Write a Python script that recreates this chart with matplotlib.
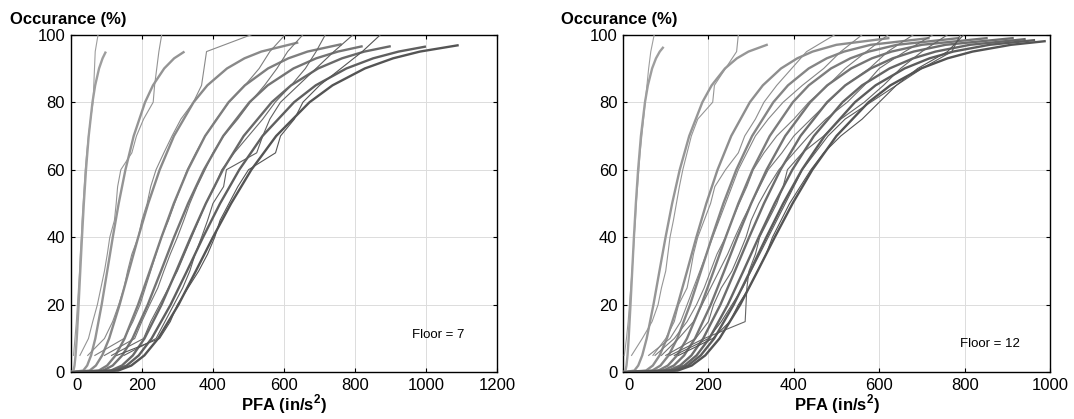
import numpy as np
import matplotlib
matplotlib.use("Agg")
import matplotlib.pyplot as plt
import matplotlib.transforms as mtransforms

plt.rcParams['font.family'] = ['Liberation Sans', 'DejaVu Sans']
plt.rcParams['mathtext.fontset'] = 'custom'
plt.rcParams['mathtext.rm'] = 'Liberation Sans'
plt.rcParams['mathtext.bf'] = 'Liberation Sans:bold'

FIT_LEVELS = [0, 0.5, 2, 5, 10, 20, 30, 40, 50, 60, 70, 80, 85, 90, 93, 95, 97]
# percent levels of the recorded (stepped) curves
REC_LEVELS = [5, 10, 15, 20, 25, 30, 35, 40, 45, 50,
              55, 60, 65, 70, 75, 80, 85, 90, 95, 100]

# ---- Floor 7 ----
fit7 = [
    [0, 7.9, 10.8, 13.8, 17.1, 22.3, 27, 31.8, 37, 43.1, 50.7, 61.3, 68.9, 79.8, 89.7],
    [0, 35.3, 46.4, 57.4, 69.3, 87.1, 102.8, 118.4, 135, 154, 177.2, 209.2, 231.4, 263, 290.9],
    [0, 53.3, 70.9, 88.6, 108.2, 137.5, 163.6, 189.9, 218, 250.3, 290.4, 345.6, 384.3, 439.5, 488.6, 536],
    [0, 78.8, 102.6, 126.2, 151.6, 189.4, 222.5, 255.2, 290, 329.6, 378, 444, 489.8, 554.8, 612, 666],
    [0, 91, 118.2, 145, 173.9, 216.6, 254, 290.6, 330, 374.7, 428.9, 502.7, 554, 626.4, 690.3, 751.4],
    [0, 112.6, 144.2, 174.9, 207.5, 255.5, 296.9, 337.4, 380, 428, 486.4, 565.3, 619.7, 695.8, 762.9, 825.8],
    [0, 122.6, 157.4, 191.4, 227.5, 280.9, 327, 372.2, 420, 474, 539.4, 628, 689, 775.2, 850.5, 922],
    [0, 133.4, 170.6, 207.2, 246, 303, 352, 400, 451, 508, 577.8, 671.6, 736.2, 827, 906.4, 982],
]
fit7_end_x = [99, 320, 640, 762, 821, 900, 999, 1091]
fit7_end_y = [95, 95, 97.7, 97.2, 96.6, 96.6, 96.5, 96.9]

rec7 = [
    [8, 12, 16, 19, 22, 25, 27, 30, 32, 35, 38, 41, 45, 50, 56, 63, 65, 67, 69, 77],
    [26, 50, 62, 75, 85, 95, 103, 110, 123, 128, 132, 141, 172, 185, 205, 232, 236, 242, 248, 256],
    [48, 95, 118, 135, 150, 160, 172, 190, 200, 215, 225, 240, 262, 285, 310, 345, 368, 375, 382, 508],
    [68, 150, 175, 195, 210, 225, 240, 255, 275, 292, 310, 328, 352, 378, 410, 445, 490, 530, 560, 603],
    [95, 180, 200, 222, 245, 262, 280, 300, 318, 335, 355, 378, 400, 430, 470, 505, 545, 580, 610, 653],
    [115, 205, 225, 250, 275, 300, 320, 340, 360, 380, 405, 425, 460, 500, 540, 575, 620, 660, 690, 716],
    [150, 240, 265, 290, 315, 335, 350, 368, 385, 400, 430, 438, 523, 540, 560, 590, 640, 690, 740, 794],
    [130, 250, 280, 300, 330, 360, 385, 405, 420, 445, 470, 500, 576, 590, 629, 653, 700, 760, 820, 871],
]

# ---- Floor 12 ----
fit12 = [
    [0, 5.8, 8.1, 10.5, 13.2, 17.5, 21.5, 25.5, 30, 35.3, 41.9, 51.4, 58.2, 68.1, 77.2, 86],
    [0, 26.5, 35.6, 45, 55.4, 71.2, 85.3, 99.6, 115, 132.8, 155, 185.8, 207.6, 238.8, 266.7, 293.8],
    [0, 53.8, 69.8, 85.6, 102.7, 128, 150, 171.7, 195, 221.4, 253.4, 297, 327.4, 370, 408, 444, 499.6],
    [0, 68.3, 87.7, 106.7, 127.1, 156.9, 182.7, 208.2, 235, 265.3, 302.3, 352, 386.3, 434.8, 477, 517.7, 579.7],
    [0, 82.6, 105, 126.6, 149.7, 183.3, 212.2, 240.4, 270, 303.2, 343.6, 397.7, 435, 487, 532.4, 575.6, 641.3],
    [0, 94.2, 119.1, 143.1, 168.5, 205.4, 236.9, 267.7, 300, 336.2, 379.8, 438.3, 478.1, 534.2, 582.8, 628.8, 699.3],
    [0, 106.3, 133.7, 160.1, 187.7, 228, 262, 295.3, 330, 368.7, 415.6, 477.8, 520.5, 580, 631.5, 680.5, 755],
    [0, 114.3, 143.8, 172.2, 202, 245.3, 281.9, 317.7, 355, 396.5, 447, 514, 559.8, 624.1, 679.5, 732, 812.2],
    [0, 120.8, 151.9, 181.9, 213.4, 259.1, 297.8, 335.6, 375, 418.9, 472.1, 543, 591.4, 659.3, 717.8, 773.3, 858],
    [0, 127.8, 160.8, 192.5, 225.9, 274.3, 315.2, 355.3, 397, 443.4, 499.8, 574.9, 626.1, 697.9, 759.9, 818.6, 908.3],
]
fit12_end_x = [95, 339, 624, 718, 787, 854, 915, 943, 965, 990]
fit12_end_y = [96.4, 97.1, 99, 99, 99, 99, 99.0, 98.7, 98.4, 98.1]

rec12 = [
    [3, 8, 12, 15, 18, 21, 24, 26, 29, 31, 34, 37, 40, 44, 48, 52, 56, 60, 65, 73],
    [20, 45, 68, 82, 90, 100, 105, 110, 118, 125, 132, 140, 150, 160, 175, 210, 214, 240, 266, 270],
    [70, 100, 120, 130, 150, 158, 165, 175, 190, 205, 215, 240, 270, 285, 310, 330, 360, 395, 430, 496],
    [60, 110, 135, 150, 165, 180, 195, 210, 225, 240, 255, 270, 290, 310, 340, 375, 420, 470, 510, 560],
    [75, 120, 150, 172, 190, 205, 220, 240, 255, 272, 290, 305, 330, 360, 400, 435, 480, 520, 570, 621],
    [90, 130, 165, 185, 205, 225, 245, 262, 280, 300, 320, 340, 372, 400, 440, 480, 520, 577, 620, 680],
    [100, 170, 200, 212, 230, 255, 272, 288, 300, 318, 340, 365, 400, 435, 475, 525, 565, 600, 660, 726],
    [110, 190, 286, 288, 290, 295, 310, 320, 340, 360, 375, 385, 420, 470, 510, 565, 610, 650, 700, 760],
    [120, 200, 230, 255, 280, 300, 320, 340, 360, 380, 400, 420, 450, 480, 520, 580, 640, 700, 770, 790],
    [130, 210, 250, 270, 295, 315, 335, 350, 370, 390, 415, 440, 470, 510, 560, 600, 640, 690, 760, 798],
]


def draw_floor(ax, fits, end_x, end_y, recs, floor, xmax):
    """Draw the fitted and recorded curves of one floor."""
    n = len(fits)
    shades = np.linspace(0.62, 0.33, n)
    for i in range(n):
        col = (shades[i], shades[i], shades[i])
        xs = list(fits[i]) + [end_x[i]]
        ys = FIT_LEVELS[:len(fits[i])] + [end_y[i]]
        ax.plot(xs, ys, color=col, lw=1.7, solid_capstyle='butt', zorder=3)
        ax.plot(recs[i], REC_LEVELS, color=col, lw=0.8, zorder=3)
    ax.set_xlim(0, xmax)
    ax.set_ylim(0, 100)
    ax.set_xticks(np.arange(0, xmax + 1, 200))
    ax.set_yticks(np.arange(0, 101, 20))
    ax.grid(True, color='#dcdcdc', lw=0.7)
    ax.set_axisbelow(True)
    ax.tick_params(direction='in', length=3, width=0.8, top=True, right=True,
                   labelsize=12, pad=4)
    for s in ax.spines.values():
        s.set_linewidth(1.0)
    ax.set_xlabel(r'PFA (in/s$^{\mathbf{2}}$)', fontsize=12, fontweight='bold',
                  labelpad=0)
    ax.text(0.8 * xmax if xmax > 1000 else 0.788 * xmax, 11 if xmax > 1000 else 8.5,
            'Floor = %d' % floor, fontsize=9.5, va='center', ha='left')
    # shift the "0" x label a little to the right
    lbl = ax.get_xticklabels()[0]
    offset = mtransforms.ScaledTranslation(6 / 100, 0, ax.figure.dpi_scale_trans)
    lbl.set_transform(lbl.get_transform() + offset)


fig = plt.figure(figsize=(10.74, 4.19), dpi=100)
ax1 = fig.add_axes([0.0658, 0.1115, 0.3974, 0.8057])
ax2 = fig.add_axes([0.5801, 0.1115, 0.3976, 0.8057])

draw_floor(ax1, fit7, fit7_end_x, fit7_end_y, rec7, 7, 1200)
draw_floor(ax2, fit12, fit12_end_x, fit12_end_y, rec12, 12, 1000)

fig.text(0.0093, 0.943, 'Occurance (%)', fontsize=12, fontweight='bold')
fig.text(0.5223, 0.943, 'Occurance (%)', fontsize=12, fontweight='bold')

fig.savefig('out.png', dpi=100)
